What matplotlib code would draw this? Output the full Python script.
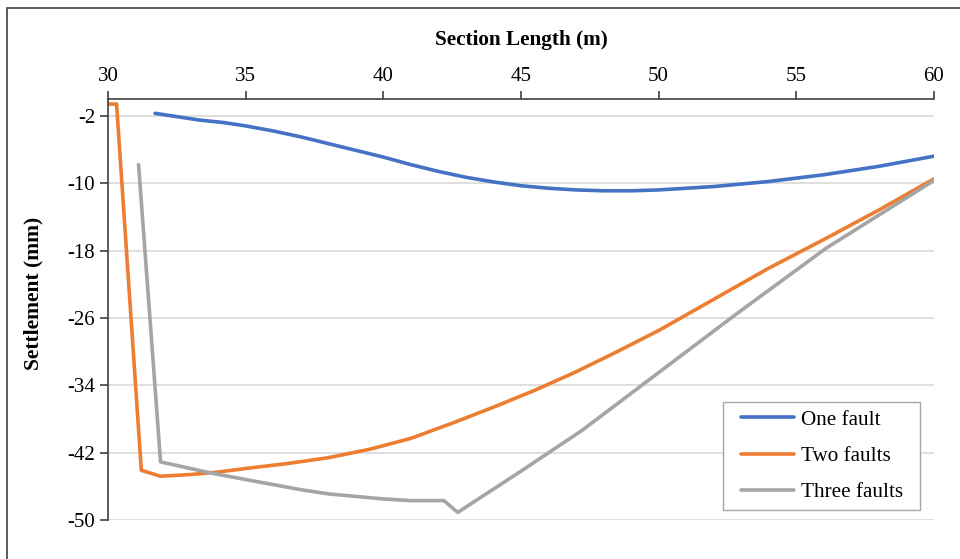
import matplotlib.pyplot as plt
from matplotlib.patches import Rectangle

plt.rcParams['font.family'] = ['Liberation Serif', 'DejaVu Serif']
plt.rcParams['axes.unicode_minus'] = False

# Settlement curves
one_x = [31.7, 32.5, 33.3, 34.2, 35.0, 36.0, 37.0, 38.0, 39.0, 40.0, 41.0, 42.0, 43.0, 44.0, 45.0,
         46.0, 47.0, 48.0, 49.0, 50.0, 51.0, 52.0, 53.0, 54.0, 55.0, 56.0, 57.0, 58.0, 59.0, 60.0]
one_y = [-1.7, -2.1, -2.5, -2.8, -3.2, -3.8, -4.5, -5.3, -6.1, -6.9, -7.8, -8.6, -9.3, -9.85, -10.3,
         -10.6, -10.8, -10.9, -10.9, -10.8, -10.6, -10.4, -10.1, -9.8, -9.4, -9.0, -8.5, -8.0, -7.4, -6.8]

two_x = [30.0, 30.3, 31.2, 31.9, 33.0, 34.0, 35.2, 36.5, 38.0, 39.5, 41.0, 42.5, 44.0, 45.5,
         47.0, 48.5, 50.0, 52.0, 54.0, 56.0, 58.0, 60.0]
two_y = [-0.6, -0.6, -44.1, -44.8, -44.6, -44.3, -43.8, -43.3, -42.6, -41.6, -40.3, -38.5, -36.6, -34.6,
         -32.4, -30.0, -27.5, -23.8, -20.1, -16.7, -13.2, -9.5]

three_x = [31.1, 31.9, 33.7, 35.0, 36.0, 37.0, 38.0, 39.0, 40.0, 41.0, 42.2, 42.7, 45.0, 47.2,
           50.0, 52.8, 56.1, 58.0, 60.0]
three_y = [-7.8, -43.1, -44.4, -45.2, -45.8, -46.4, -46.9, -47.2, -47.5, -47.7, -47.7, -49.1, -44.2, -39.4,
           -32.5, -25.6, -17.7, -13.8, -9.7]

labels = ['One fault', 'Two faults', 'Three faults']
colors = ['#4472C4', '#ED7D31', '#A5A5A5']
x_ticks = [30, 35, 40, 45, 50, 55, 60]
y_ticks = [-2, -10, -18, -26, -34, -42, -50]

fig = plt.figure(figsize=(9.6, 5.59), dpi=100)
# chart area border (cut off at right and bottom in the reference)
fig.patches.append(Rectangle((7 / 960, -0.1), 1.2, 1 - 8 / 559 + 0.1,
                             transform=fig.transFigure, fill=False,
                             edgecolor='#404040', linewidth=1.2))

ax = fig.add_axes([108.3 / 960, 1 - 520 / 559, (933.7 - 108.3) / 960, (520 - 99) / 559])

for xs, ys, lab, c in zip([one_x, two_x, three_x], [one_y, two_y, three_y], labels, colors):
    ax.plot(xs, ys, color=c, linewidth=2.6, label=lab, solid_capstyle='round')

ax.set_xlim(30, 60)
ax.set_ylim(-50, 0)
ax.set_xticks(x_ticks)
ax.set_yticks(y_ticks)
ax.xaxis.tick_top()
ax.xaxis.set_label_position('top')
ax.tick_params(axis='both', labelsize=15, direction='out', length=6, width=1.2, color='#404040')
ax.tick_params(axis='x', pad=3)
ax.grid(axis='y', color='#d9d9d9', linewidth=1.2)
ax.set_axisbelow(True)
for s in ['right', 'bottom']:
    ax.spines[s].set_visible(False)
for s in ['left', 'top']:
    ax.spines[s].set_color('#404040')
    ax.spines[s].set_linewidth(1.2)

ax.set_xlabel('Section Length (m)', fontsize=15.3, fontweight='bold', labelpad=16)
fig.text(33 / 960, 1 - 293 / 559, 'Settlement (mm)', rotation=90, fontsize=15.5,
         fontweight='bold', ha='center', va='center')

# legend frame drawn separately so the padding matches the reference
ax.add_patch(Rectangle((723.3 / 960, 1 - 510 / 559), (920 - 723.3) / 960, (510 - 401.7) / 559,
                       transform=fig.transFigure, facecolor='white', clip_on=False,
                       edgecolor='#a6a6a6', linewidth=1.0, zorder=5))
leg = ax.legend(loc='upper left', bbox_to_anchor=(741 / 960, 1 - 410 / 559),
                bbox_transform=fig.transFigure, borderaxespad=0, borderpad=0, fontsize=15.2,
                handlelength=2.5, labelspacing=0.78, frameon=False, handletextpad=0.35)
leg.set_zorder(6)

fig.savefig('out.png', dpi=100)
